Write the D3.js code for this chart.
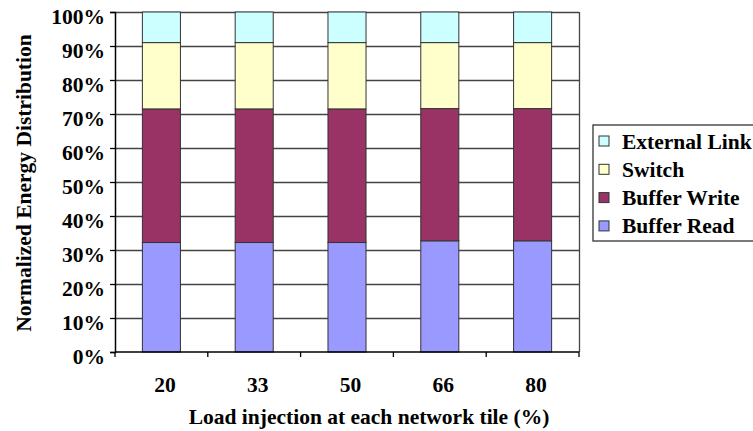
<!DOCTYPE html>
<html>
<head>
<meta charset="utf-8">
<script src="https://cdn.jsdelivr.net/npm/d3@7"></script>
<style>
html,body{margin:0;padding:0;background:#fff;}
svg{display:block;}
text{font-family:"Liberation Serif","Times New Roman",serif;font-weight:bold;fill:#000;}
</style>
</head>
<body>
<svg id="chart" width="753" height="431"></svg>
<script>
const categories = ["20", "33", "50", "66", "80"];
const seriesNames = ["Buffer Read", "Buffer Write", "Switch", "External Link"];
const bufferRead   = [32.2, 32.2, 32.2, 32.7, 32.7];
const bufferWrite  = [39.3, 39.3, 39.3, 38.9, 38.9];
const switchE      = [19.5, 19.5, 19.5, 19.4, 19.4];
const externalLink = [9.0, 9.0, 9.0, 9.0, 9.0];
const colors = ["#9999FF", "#993366", "#FFFFCC", "#CCFFFF"];
const yTicks = [0, 10, 20, 30, 40, 50, 60, 70, 80, 90, 100];

const rows = categories.map((c, i) => ({
  cat: c,
  "Buffer Read": bufferRead[i],
  "Buffer Write": bufferWrite[i],
  "Switch": switchE[i],
  "External Link": externalLink[i]
}));
const stack = d3.stack().keys(seriesNames)
  .offset(d3.stackOffsetExpand)(rows);

const svg = d3.select("#chart");
const L = 115, R = 579, T = 12, B = 352;
const FS = "21.5px";

const x = d3.scaleBand().domain(categories).range([L, R]).paddingInner(0.59).paddingOuter(0.295);
const xb = d3.scaleBand().domain(categories).range([L, R]);
const y = d3.scaleLinear().domain([0, 1]).range([B, T]);

// gridlines
svg.append("g").selectAll("line").data(yTicks.slice(1)).join("line")
  .attr("x1", L).attr("x2", R)
  .attr("y1", d => Math.round(y(d / 100)) + 0.5).attr("y2", d => Math.round(y(d / 100)) + 0.5)
  .attr("stroke", "#444").attr("stroke-width", 1.3);
// right border
svg.append("line").attr("x1", R + 0.5).attr("x2", R + 0.5).attr("y1", T).attr("y2", B)
  .attr("stroke", "#444").attr("stroke-width", 1.3);

// bars
const colorScale = d3.scaleOrdinal().domain(seriesNames).range(colors);
svg.append("g").selectAll("g").data(stack).join("g")
  .attr("fill", d => colorScale(d.key))
  .selectAll("rect").data(d => d).join("rect")
  .attr("x", d => x(d.data.cat))
  .attr("width", x.bandwidth())
  .attr("y", d => y(d[1]))
  .attr("height", d => y(d[0]) - y(d[1]))
  .attr("stroke", "#333").attr("stroke-width", 1);

// y axis
const yAxis = d3.axisLeft(y).tickValues(yTicks.map(v => v / 100))
  .tickFormat(d => Math.round(d * 100) + "%").tickSize(5).tickPadding(5);
const gy = svg.append("g").attr("transform", `translate(${L},0)`).call(yAxis);
gy.select(".domain").attr("stroke", "#000").attr("stroke-width", 1.5);
gy.selectAll(".tick line").attr("stroke", "#000").attr("stroke-width", 1.3);
gy.selectAll("text").style("font-size", FS).attr("dy", "0.55em");

// x axis
const gx = svg.append("g").attr("transform", `translate(0,${B})`);
gx.append("line").attr("x1", L).attr("x2", R).attr("stroke", "#000").attr("stroke-width", 1.5);
gx.selectAll("line.tk").data(categories.concat(["end"])).join("line").attr("class", "tk")
  .attr("x1", (d, i) => i < categories.length ? xb(d) : R)
  .attr("x2", (d, i) => i < categories.length ? xb(d) : R)
  .attr("y1", 0).attr("y2", 5).attr("stroke", "#000").attr("stroke-width", 1.3);
gx.selectAll("text").data(categories).join("text")
  .attr("x", d => xb(d) + xb.bandwidth() / 2 + 3.5)
  .attr("y", 40)
  .attr("text-anchor", "middle")
  .style("font-size", FS)
  .text(d => d);

// axis titles
svg.append("text").attr("x", 369).attr("y", 424).attr("text-anchor", "middle")
  .style("font-size", FS).text("Load injection at each network tile (%)");
svg.append("text").attr("transform", "translate(31,183) rotate(-90)").attr("text-anchor", "middle")
  .style("font-size", FS).text("Normalized Energy Distribution");

// legend
const lg = svg.append("g");
lg.append("rect").attr("x", 593).attr("y", 125).attr("width", 180).attr("height", 116)
  .attr("fill", "#fff").attr("stroke", "#333").attr("stroke-width", 1.3);
const legendItems = seriesNames.slice().reverse();
const li = lg.selectAll("g").data(legendItems).join("g")
  .attr("transform", (d, i) => `translate(0,${141 + i * 28.3})`);
li.append("rect").attr("x", 599).attr("y", -5).attr("width", 10).attr("height", 10)
  .attr("fill", d => colorScale(d)).attr("stroke", "#333").attr("stroke-width", 1);
li.append("text").attr("x", 622).attr("y", 0).attr("dy", "0.35em")
  .style("font-size", FS).text(d => d);
</script>
</body>
</html>
